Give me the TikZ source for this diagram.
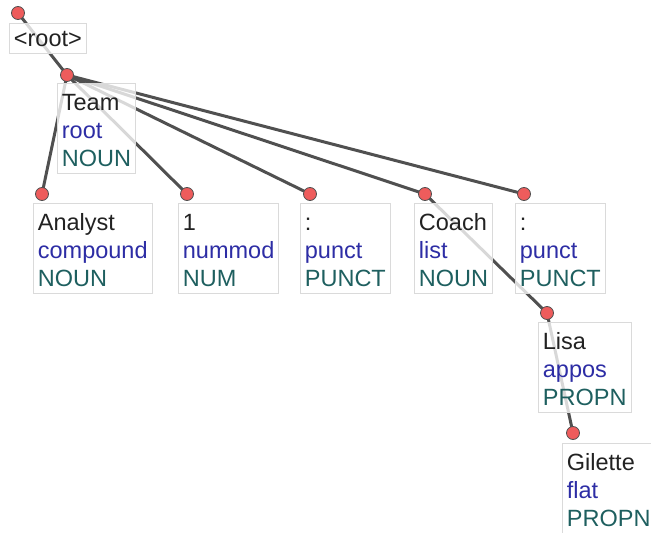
\documentclass[tikz,border=0pt]{standalone}
\usepackage{fontspec}
\setmainfont{Liberation Sans}
\definecolor{wordcol}{RGB}{34,34,34}
\definecolor{relcol}{RGB}{45,45,165}
\definecolor{poscol}{RGB}{30,95,95}
\definecolor{edgecol}{RGB}{80,80,80}
\definecolor{boxline}{RGB}{218,218,218}
\definecolor{dotfill}{RGB}{238,92,92}
\pgfdeclarelayer{background}
\pgfsetlayers{background,main}
% three-line token label: word, relation, part of speech
\newcommand{\deptoken}[3]{\rule{0pt}{27pt}\textcolor{wordcol}{#1}\\\textcolor{relcol}{#2}\\\textcolor{poscol}{#3}\rule[-7pt]{0pt}{7pt}}
\begin{document}
\begin{tikzpicture}[x=1pt,y=-1pt,
  tokbox/.style={draw=boxline,line width=0.8pt,fill=white,fill opacity=0.78,text opacity=1,
    anchor=north west,align=left,inner xsep=4.5pt,inner ysep=0pt,
    font=\fontsize{23.5}{28}\selectfont},
  dot/.style={circle,draw=edgecol,line width=0.8pt,fill=dotfill,minimum size=13pt,inner sep=0pt},
  edge/.style={draw=edgecol,line width=3pt}]
\useasboundingbox (0,0) rectangle (651,533);
\clip (0,0) rectangle (651,533);

% token boxes
\node[tokbox] (b-root) at (9,23) {\rule{0pt}{23.5pt}\textcolor{wordcol}{<root>}\rule[-6.5pt]{0pt}{6.5pt}};
\node[tokbox] (b-team) at (57,83) {\deptoken{Team}{root}{NOUN}};
\node[tokbox] (b-analyst) at (33,203) {\deptoken{Analyst}{compound}{NOUN}};
\node[tokbox] (b-one) at (178,203) {\deptoken{1}{nummod}{NUM}};
\node[tokbox] (b-colA) at (300,203) {\deptoken{:}{punct}{PUNCT}};
\node[tokbox] (b-coach) at (414,203) {\deptoken{Coach}{list}{NOUN}};
\node[tokbox] (b-colB) at (515,203) {\deptoken{:}{punct}{PUNCT}};
\node[tokbox] (b-lisa) at (538,322) {\deptoken{Lisa}{appos}{PROPN}};
\node[tokbox] (b-gilette) at (562,443) {\deptoken{Gilette}{flat}{PROPN}};

% attachment points
\node[dot] (root) at (18,13) {};
\node[dot] (team) at (67,75) {};
\node[dot] (analyst) at (42,194) {};
\node[dot] (one) at (187,194) {};
\node[dot] (colA) at (310,194) {};
\node[dot] (coach) at (425,194) {};
\node[dot] (colB) at (524,194) {};
\node[dot] (lisa) at (547,313) {};
\node[dot] (gilette) at (573,433) {};

% dependency arcs, behind the boxes
\begin{pgfonlayer}{background}
\draw[edge] (root.center) -- (team.center);
\draw[edge] (team.center) -- (analyst.center);
\draw[edge] (team.center) -- (one.center);
\draw[edge] (team.center) -- (colA.center);
\draw[edge] (team.center) -- (coach.center);
\draw[edge] (team.center) -- (colB.center);
\draw[edge] (coach.center) -- (lisa.center);
\draw[edge] (lisa.center) -- (gilette.center);
\end{pgfonlayer}
\end{tikzpicture}
\end{document}
